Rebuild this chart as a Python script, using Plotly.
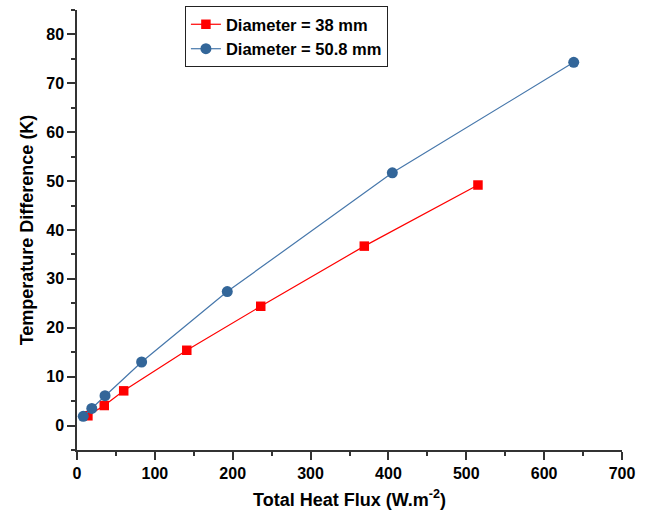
import plotly.graph_objects as go

# Total heat flux (W.m-2) and temperature difference (K) for each tube diameter
flux_38 = [14, 35, 60, 141, 236, 369, 515]
dT_38 = [2.0, 4.1, 7.1, 15.4, 24.4, 36.7, 49.2]

flux_508 = [8, 19, 36, 83, 193, 405, 638]
dT_508 = [1.9, 3.5, 6.1, 13.0, 27.4, 51.7, 74.3]

series_names = ["Diameter = 38 mm", "Diameter = 50.8 mm"]

font_family = "Liberation Sans, Arial, sans-serif"

fig = go.Figure()
fig.add_trace(go.Scatter(
    x=flux_38, y=dT_38, name=series_names[0], mode="lines+markers",
    line=dict(color="#ff0000", width=1.2),
    marker=dict(symbol="square", size=9.5, color="#ff0000"),
))
fig.add_trace(go.Scatter(
    x=flux_508, y=dT_508, name=series_names[1], mode="lines+markers",
    line=dict(color="#4677ab", width=1.2),
    marker=dict(symbol="circle", size=11, color="#336699"),
))

axis_common = dict(
    showline=True, linecolor="#333333", linewidth=1.5,
    showgrid=False, zeroline=False,
    ticks="outside", ticklen=8, tickwidth=1.5, tickcolor="#333333",
    tickfont=dict(family=font_family, size=16, color="black", weight="bold"),
    mirror=False,
)

fig.update_layout(
    width=646, height=512,
    margin=dict(l=77, r=24, t=10, b=62, autoexpand=False),
    paper_bgcolor="white", plot_bgcolor="white",
    font=dict(family=font_family, color="black"),
    showlegend=True,
    legend=dict(
        x=0.198, y=1.009, xanchor="left", yanchor="top",
        bordercolor="#222222", borderwidth=1, bgcolor="white",
        font=dict(family=font_family, size=16.5, color="black", weight="bold"),
        tracegroupgap=2,
    ),
    xaxis=dict(
        axis_common,
        range=[0, 700], dtick=100,
        minor=dict(dtick=50, ticks="outside", ticklen=4, tickwidth=1.5, tickcolor="#333333"),
        title=dict(text="Total Heat Flux (W.m<sup>-2</sup>)",
                   font=dict(family=font_family, size=18, color="black", weight="bold"),
                   standoff=12),
    ),
    yaxis=dict(
        axis_common,
        range=[-5, 85], dtick=10,
        minor=dict(dtick=5, ticks="outside", ticklen=4, tickwidth=1.5, tickcolor="#333333"),
        title=dict(text="Temperature Difference (K)",
                   font=dict(family=font_family, size=18, color="black", weight="bold"),
                   standoff=8),
    ),
)

fig.write_html("out.html")
